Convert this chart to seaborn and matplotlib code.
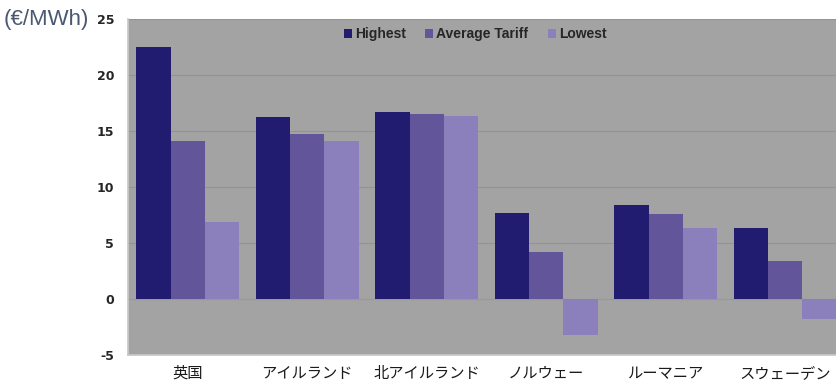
import matplotlib
matplotlib.use("Agg")
import matplotlib.pyplot as plt
import seaborn as sns
import pandas as pd

countries = ["英国", "アイルランド", "北アイルランド", "ノルウェー", "ルーマニア", "スウェーデン"]
series = ["Highest", "Average Tariff", "Lowest"]
highest = [22.5, 16.25, 16.7, 7.7, 8.4, 6.35]
average = [14.1, 14.7, 16.5, 4.2, 7.6, 3.4]
lowest = [6.9, 14.1, 16.3, -3.2, 6.35, -1.8]
yticks = [-5, 0, 5, 10, 15, 20, 25]

rows = []
for name, vals in zip(series, [highest, average, lowest]):
    for c, v in zip(countries, vals):
        rows.append({"country": c, "series": name, "value": v})
df = pd.DataFrame(rows)

sns.set_theme(style="white")
plt.rcParams['font.family'] = ['Noto Sans CJK JP', 'DejaVu Sans']

fig = plt.figure(figsize=(8.36, 3.84), dpi=100)
ax = fig.add_axes([128/836, 1 - 355/384, (845-128)/836, (355-19)/384])
ax.set_facecolor("#a3a3a3")

palette = ["#211c70", "#62559a", "#8b80bc"]
sns.barplot(data=df, x="country", y="value", hue="series", palette=palette,
            width=0.86, gap=0, saturation=1, ax=ax, edgecolor="none", zorder=3)

ax.set_ylim(-5, 25)
ax.set_xlim(-0.5, 5.5)
ax.set_yticks(yticks)
ax.set_yticklabels([str(t) for t in yticks], fontweight="bold", fontsize=9,
                   family=['DejaVu Sans'])
for t in ax.get_xticklabels():
    t.set_fontsize(11)
    t.set_color("#1a1a1a")
ax.set_xlabel("")
ax.set_ylabel("")
ax.tick_params(axis="x", length=0, pad=7)
ax.tick_params(axis="y", length=4, color="#888888", pad=6)
ax.yaxis.grid(True, color="#939393", linewidth=0.8, zorder=0)
ax.set_axisbelow(True)
for s in ["top", "right"]:
    ax.spines[s].set_visible(False)
ax.spines["left"].set_color("#c8c8c8")
ax.spines["bottom"].set_color("#c8c8c8")
ax.axhline(0, color="#999999", linewidth=0.8, zorder=2)

leg = ax.legend(loc="upper center", bbox_to_anchor=((475-128)/(845-128), 1.012), ncol=3,
                frameon=False, handlelength=0.6, handleheight=0.6, handletextpad=0.2,
                columnspacing=1.4,
                prop={"weight": "bold", "size": 10, "family": "Liberation Sans"})

fig.text(4/836, 1 - 20/384, "(€/MWh)", fontsize=16, color="#4a5870",
         va="center", ha="left", family=['Liberation Sans', 'DejaVu Sans'])

fig.savefig("out.png", dpi=100)
